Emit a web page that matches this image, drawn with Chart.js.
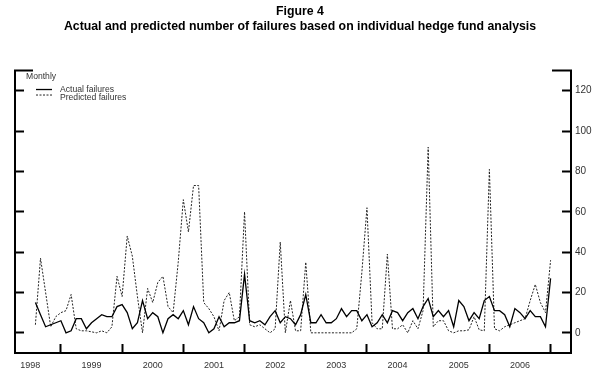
<!DOCTYPE html>
<html>
<head>
<meta charset="utf-8">
<script src="https://cdn.jsdelivr.net/npm/chart.js@4.4.1/dist/chart.umd.min.js"></script>
<style>
  html, body { margin: 0; padding: 0; background: #fff; }
  #wrap { width: 600px; height: 376px; }
</style>
</head>
<body>
<div id="wrap"><canvas id="failChart"></canvas></div>
<script>
const years = ['1998', '1999', '2000', '2001', '2002', '2003', '2004', '2005', '2006'];
// first observation, in months counted from the start of 1998
const firstMonth = 7;

const actual = [
    15, 9, 3, 4, 5, 6, 0, 1, 7, 7,
    2, 5, 7, 9, 8, 8, 13, 14, 10, 2,
    5, 16, 7, 10, 8, 0, 7, 9, 7, 11,
    4, 13, 7, 5, 0, 2, 8, 3, 5, 5,
    6, 29, 6, 5, 6, 4, 8, 11, 5, 8,
    7, 4, 9, 19, 5, 5, 9, 5, 5, 7,
    12, 8, 11, 11, 6, 9, 3, 5, 9, 5,
    11, 10, 6, 10, 12, 7, 13, 17, 8, 11,
    8, 11, 3, 16, 13, 6, 10, 7, 16, 18,
    11, 11, 9, 3, 12, 10, 7, 11, 8, 8,
    3, 27
];

const predicted = [
    4, 37, 20, 3, 8, 10, 11, 19, 2, 1,
    1, 0.5, 0, 1, 0, 3, 28, 18, 48, 38,
    18, 0, 22, 15, 25, 28, 13, 10, 35, 66,
    50, 73, 73, 15, 12, 8, 1, 16, 20, 6,
    8, 60, 4, 3, 4, 2, 0, 2, 45, 0,
    16, 1, 1, 35, 0, 0, 0, 0, 0, 0,
    0, 0, 0, 2, 30, 62, 5, 2, 2, 39,
    2, 2, 4, 0, 6, 2, 11, 92, 3, 6,
    6, 1, 0, 1, 1, 1.5, 8, 1.5, 1, 81,
    2, 1, 3, 4, 5, 6, 7, 16, 24, 15,
    10, 36
];

const yTicks = [0, 20, 40, 60, 80, 100, 120];

Chart.defaults.font.family = "'Liberation Sans', Arial, sans-serif";

function toPoints(values) {
    return values.map((v, i) => ({ x: firstMonth + i, y: v }));
}

function setYTicks(scale) {
    scale.ticks = yTicks.map(v => ({ value: v }));
}

// draws "Monthly", the legend and the small caps on top of the frame
const frameExtras = {
    id: 'frameExtras',
    afterDraw(chart) {
        let ctx = chart.ctx;
        let area = chart.chartArea;
        ctx.save();

        ctx.strokeStyle = '#000';
        ctx.lineWidth = 2;
        ctx.beginPath();
        ctx.moveTo(area.left - 1, area.top);
        ctx.lineTo(area.left + 18, area.top);
        ctx.moveTo(area.right - 19, area.top);
        ctx.lineTo(area.right + 1, area.top);
        ctx.stroke();

        ctx.fillStyle = '#333';
        ctx.font = "8.6px 'Liberation Sans', Arial, sans-serif";
        ctx.textBaseline = 'middle';
        ctx.fillText('Monthly', area.left + 11, area.top + 6);

        let rowY = [area.top + 19, area.top + 27.5];
        let lineY = [area.top + 19, area.top + 24.5];
        chart.data.datasets.forEach((ds, i) => {
            ctx.strokeStyle = ds.borderColor;
            ctx.lineWidth = ds.borderWidth;
            ctx.setLineDash(ds.borderDash || []);
            ctx.beginPath();
            ctx.moveTo(area.left + 21, lineY[i]);
            ctx.lineTo(area.left + 37, lineY[i]);
            ctx.stroke();
            ctx.setLineDash([]);
            ctx.fillText(ds.label, area.left + 45, rowY[i]);
        });
        ctx.restore();
    }
};

let ctx = document.getElementById('failChart').getContext('2d');

new Chart(ctx, {
    type: 'line',
    data: {
        datasets: [{
            label: 'Actual failures',
            data: toPoints(actual),
            borderColor: '#000',
            borderWidth: 1.3,
            pointRadius: 0,
            tension: 0,
            yAxisID: 'y'
        }, {
            label: 'Predicted failures',
            data: toPoints(predicted),
            borderColor: '#222',
            borderWidth: 1,
            borderDash: [2, 1.5],
            pointRadius: 0,
            tension: 0,
            yAxisID: 'y'
        }]
    },
    options: {
        responsive: true,
        maintainAspectRatio: false,
        animation: false,
        layout: { padding: 0 },
        plugins: {
            legend: { display: false },
            tooltip: { enabled: false },
            title: {
                display: true,
                text: ['Figure 4', 'Actual and predicted number of failures based on individual hedge fund analysis'],
                color: '#000',
                font: { size: 12.3, weight: 'bold' },
                lineHeight: 1.05,
                padding: { top: 4, bottom: 37 }
            }
        },
        scales: {
            x: {
                type: 'linear',
                min: 3,
                max: 112,
                afterBuildTicks: scale => {
                    scale.ticks = [];
                    years.forEach((y, k) => {
                        scale.ticks.push({ value: 12 * k + 6 });
                        scale.ticks.push({ value: 12 * k + 12 });
                    });
                },
                afterFit: scale => { scale.height = 23; },
                grid: {
                    drawOnChartArea: false,
                    tickLength: -9,
                    tickWidth: 2,
                    tickColor: c => (c.tick && c.tick.value % 12 == 0) ? '#000' : 'rgba(0,0,0,0)'
                },
                border: { color: '#000', width: 2 },
                ticks: {
                    autoSkip: false,
                    maxRotation: 0,
                    padding: 16,
                    color: '#333',
                    font: { size: 9 },
                    callback: v => (v % 12 == 6) ? years[(v - 6) / 12] : ''
                }
            },
            yL: {
                position: 'left',
                min: -10,
                max: 130,
                afterBuildTicks: setYTicks,
                afterFit: scale => { scale.width = 15; },
                grid: { drawOnChartArea: false, tickLength: -9, tickWidth: 2, tickColor: '#000' },
                border: { color: '#000', width: 2 },
                ticks: { display: false }
            },
            y: {
                position: 'right',
                min: -10,
                max: 130,
                afterBuildTicks: setYTicks,
                afterFit: scale => { scale.width = 29; },
                grid: { drawOnChartArea: false, tickLength: -9, tickWidth: 2, tickColor: '#000' },
                border: { color: '#000', width: 2 },
                ticks: { padding: 13, color: '#333', font: { size: 10 } }
            }
        }
    },
    plugins: [frameExtras]
});
</script>
</body>
</html>
